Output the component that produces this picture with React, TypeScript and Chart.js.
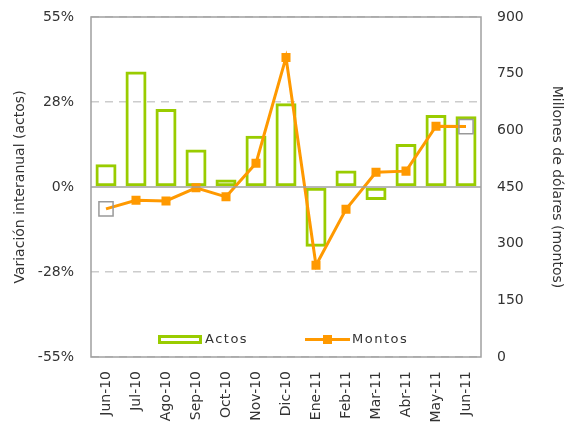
import React, { useEffect, useRef } from "react";
import { Chart, registerables } from "chart.js";

Chart.register(...registerables);

const categories = ["Jun-10", "Jul-10", "Ago-10", "Sep-10", "Oct-10", "Nov-10", "Dic-10", "Ene-11", "Feb-11", "Mar-11", "Abr-11", "May-11", "Jun-11"];
const actos = [7.4, 37.4, 25.2, 12.1, 2.4, 16.6, 27.1, -19.3, 5.3, -4.2, 13.9, 23.3, 22.9];
const montos = [392, 415, 413, 448, 424, 513, 793, 243, 391, 489, 492, 611, 610];
const leftTicks = [-55, -27.5, 0, 27.5, 55];
const rightTicks = [0, 150, 300, 450, 600, 750, 900];

const GREEN = "#99CC00";
const ORANGE = "#FF9900";
const GRAY = "#A0A0A0";
const TEXT = "#333333";
const FONT = "'DejaVu Sans', sans-serif";

const framePlugin = {
  id: "frame",
  beforeDatasetsDraw(chart: any) {
    const { ctx, chartArea } = chart;
    const { left, right, top, bottom } = chartArea;
    ctx.save();
    ctx.strokeStyle = GRAY;
    ctx.lineWidth = 1.5;
    ctx.setLineDash([]);
    ctx.strokeRect(left, top, right - left, bottom - top);
    ctx.restore();
  },
  afterDatasetsDraw(chart: any) {
    const { ctx, chartArea } = chart;
    const { left, right } = chartArea;
    const y0 = chart.scales.y.getPixelForValue(0);
    ctx.save();
    ctx.strokeStyle = GRAY;
    ctx.lineWidth = 1.5;
    ctx.beginPath();
    ctx.moveTo(left, y0);
    ctx.lineTo(right, y0);
    ctx.stroke();
    ctx.restore();
  },
  afterDraw(chart: any) {
    const { ctx, chartArea } = chart;
    const { left, bottom } = chartArea;
    const cy = bottom - 17.5;
    ctx.save();
    ctx.font = `13px ${FONT}`;
    ctx.fillStyle = TEXT;
    ctx.textBaseline = "middle";
    (ctx as any).letterSpacing = "1.5px";
    // Actos
    const ax = left + 67;
    ctx.strokeStyle = GREEN;
    ctx.lineWidth = 3;
    ctx.strokeRect(ax + 1.5, cy - 3, 41, 6);
    ctx.fillText(chart.data.datasets[0].label, ax + 47, cy);
    // Montos
    const mx = left + 214;
    ctx.strokeStyle = ORANGE;
    ctx.beginPath();
    ctx.moveTo(mx, cy);
    ctx.lineTo(mx + 45, cy);
    ctx.stroke();
    ctx.fillStyle = ORANGE;
    ctx.fillRect(mx + 22.5 - 4.5, cy - 4.5, 9, 9);
    ctx.fillStyle = TEXT;
    ctx.fillText(chart.data.datasets[1].label, mx + 47, cy);
    ctx.restore();
  },
};

export default function App() {
  const ref = useRef<HTMLCanvasElement | null>(null);

  useEffect(() => {
    document.body.style.margin = "0";
    if (!ref.current) return;
    const last = montos.length - 1;
    const chart = new Chart(ref.current, {
      type: "bar",
      data: {
        labels: categories,
        datasets: [
          {
            type: "bar",
            label: "Actos",
            data: actos,
            yAxisID: "y",
            backgroundColor: "rgba(255,255,255,0)",
            borderColor: GREEN,
            borderWidth: 3,
            borderSkipped: false,
            barPercentage: 0.7,
            categoryPercentage: 1,
            order: 1,
          },
          {
            type: "line",
            label: "Montos",
            data: montos,
            yAxisID: "y1",
            borderColor: ORANGE,
            borderWidth: 3,
            tension: 0,
            pointStyle: "rect",
            pointRadius: (c: any) => (c.dataIndex === 0 || c.dataIndex === last ? 10 : 6.4),
            pointBackgroundColor: (c: any) => (c.dataIndex === 0 || c.dataIndex === last ? "rgba(255,255,255,0)" : ORANGE),
            pointBorderColor: (c: any) => (c.dataIndex === 0 || c.dataIndex === last ? "#999999" : ORANGE),
            pointBorderWidth: (c: any) => (c.dataIndex === 0 || c.dataIndex === last ? 1.5 : 0),
            order: 0,
          } as any,
        ],
      },
      options: {
        animation: false,
        responsive: false,
        layout: { padding: { top: 17, left: 0, right: 0, bottom: 0 } },
        plugins: { legend: { display: false }, tooltip: { enabled: false } },
        scales: {
          x: {
            grid: { display: false, drawTicks: false },
            border: { display: false },
            ticks: { color: TEXT, font: { family: FONT, size: 14 }, maxRotation: 90, minRotation: 90, padding: 14, autoSkip: false },
            afterFit: (s: any) => { s.height = 73; },
          },
          y: {
            position: "left",
            min: -55,
            max: 55,
            afterBuildTicks: (s: any) => { s.ticks = leftTicks.map((v) => ({ value: v })); },
            ticks: {
              color: TEXT,
              font: { family: FONT, size: 14 },
              padding: 17,
              callback: (v: any) => `${Math.sign(v) * Math.round(Math.abs(v))}%`,
            },
            grid: {
              drawTicks: false,
              color: (c: any) => (c.tick && c.tick.value === 0 ? "rgba(0,0,0,0)" : "#CCCCCC"),
              lineWidth: 1.5,
            },
            border: { display: false, dash: [8, 6] },
            title: { display: true, text: "Variación interanual (actos)", color: TEXT, font: { family: FONT, size: 14 }, padding: { top: 12, bottom: 0 } },
            afterFit: (s: any) => { s.width = 91; s.paddingTop = 0; s.paddingBottom = 0; },
          },
          y1: {
            position: "right",
            min: 0,
            max: 900,
            afterBuildTicks: (s: any) => { s.ticks = rightTicks.map((v) => ({ value: v })); },
            ticks: { color: TEXT, font: { family: FONT, size: 14 }, padding: 16 },
            grid: { display: false, drawTicks: false },
            border: { display: false },
            title: { display: true, text: "Millones de dólares (montos)", color: TEXT, font: { family: FONT, size: 14 }, padding: { top: 6, bottom: 0 } },
            afterFit: (s: any) => { s.width = 90; s.paddingTop = 0; s.paddingBottom = 0; },
          },
        },
      },
      plugins: [framePlugin],
    });
    return () => chart.destroy();
  }, []);

  return <canvas ref={ref} width={571} height={430} style={{ display: "block", width: 571, height: 430 }} />;
}
